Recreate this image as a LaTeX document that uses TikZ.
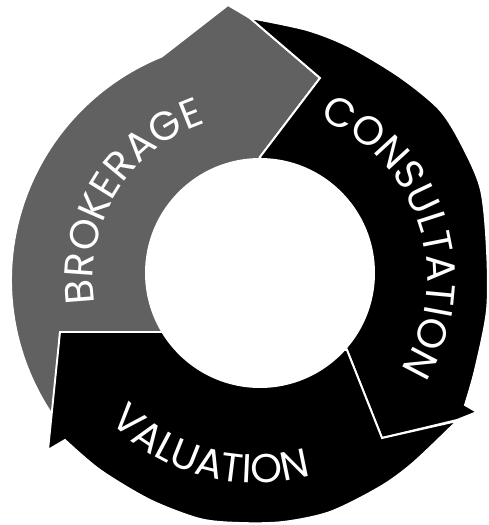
\documentclass[tikz,border=0pt]{standalone}
\usepackage{fontspec}
\usetikzlibrary{calc,decorations.text}
\newfontfamily\ringfont{Poppins}
\definecolor{brokergray}{gray}{0.38}

\begin{document}
\begin{tikzpicture}[
  x=0.02cm, y=0.02cm,
  band/.style={draw=white, line width=1.1pt, line join=miter},
  ringlabel/.style={decorate, decoration={text along path, text align=center,
    text={|\ringfont\fontsize{23}{25}\selectfont\color{white}|#1}}}
]
  \useasboundingbox (0,0) rectangle (489,-525);
  \coordinate (O) at (252,-280); % outer edge
  \coordinate (T) at (256,-278); % labels
  \coordinate (H) at (260,-273); % hole

  % brokerage
  \fill[band, fill=brokergray] (162,-332) -- (60,-332) -- ($(O)+(215:241)$)
    arc[start angle=215, end angle=112, radius=241]
    -- (228,-5) -- (250,-18) -- (320,-78) -- (260,-157) -- cycle;
  % consultation
  \fill[band, fill=black] (260,-157) -- (320,-78)
    -- plot[smooth] coordinates {(250,-18) (307,-30) (350,-47) (400,-77) (440,-110)
      (463,-147) (481,-190) (487,-250) (487,-310) (475,-370) (465,-405)}
    -- (477,-412) -- (457,-420) -- (382,-438) -- (347,-350) -- cycle;
  % valuation
  \fill[band, fill=black] (347,-350) -- (382,-438)
    -- plot[smooth] coordinates {(457,-421) (413,-463) (380,-487) (330,-512)
      (283,-522) (240,-523) (200,-519) (150,-500) (100,-470) (65,-440)}
    -- (48,-450) -- (60,-332) -- (162,-332) -- cycle;

  \fill[white] (H) circle[radius=115];

  \path[ringlabel=BROKERAGE] ($(T)+(213.5:163)$)
    arc[start angle=213.5, end angle=83.5, radius=163];
  \path[ringlabel=CONSULTATION] ($(T)+(82:171)$)
    arc[start angle=82, end angle=-46, radius=171];
  \path[ringlabel=VALUATION] ($(T)+(-170:205)$)
    arc[start angle=-170, end angle=-40, radius=205];
\end{tikzpicture}
\end{document}
